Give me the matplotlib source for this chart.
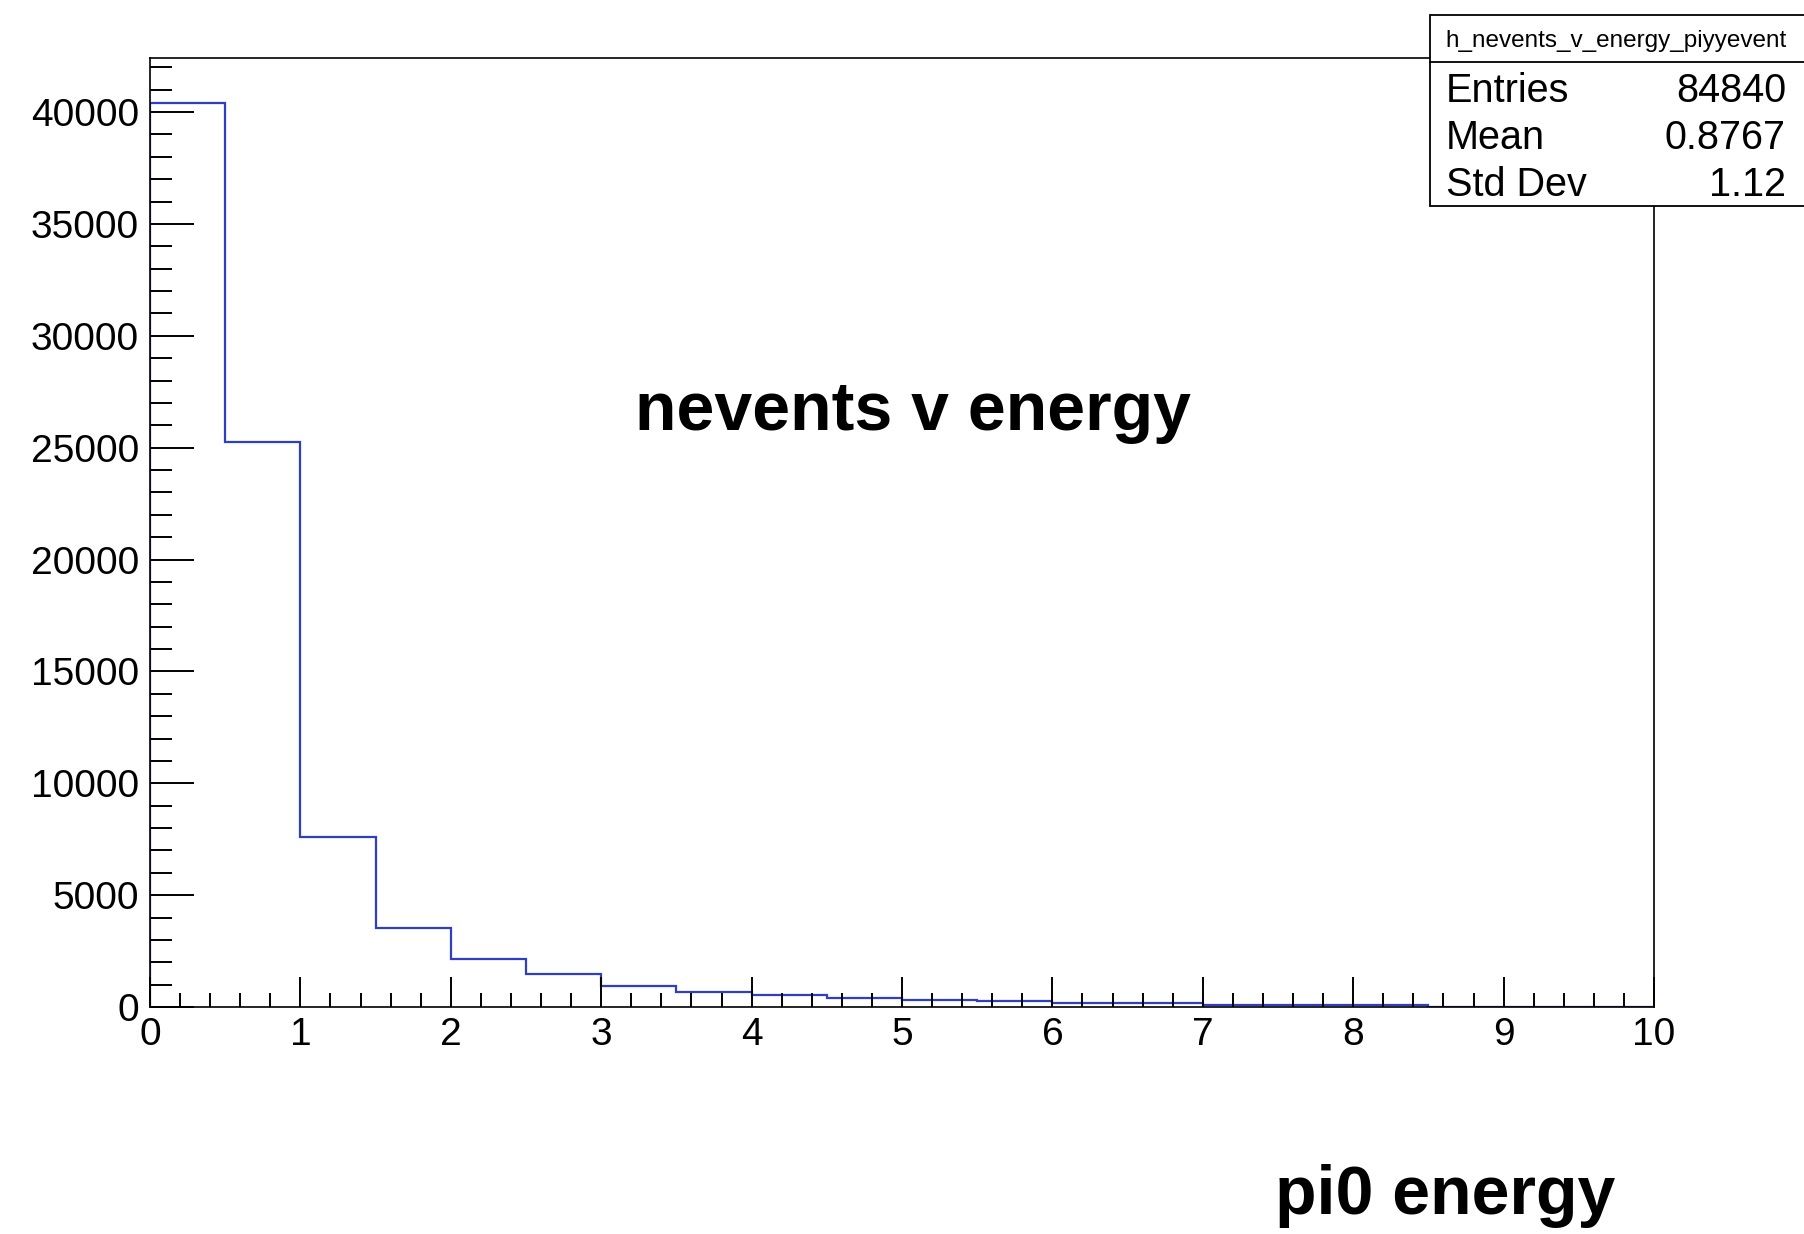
import matplotlib
matplotlib.use("Agg")
import matplotlib.pyplot as plt
import numpy as np
from matplotlib.ticker import MultipleLocator

# histogram h_nevents_v_energy_piyyevent, 20 bins of 0.5 from 0 to 10
bin_edges = np.linspace(0, 10, 21)
counts = [40420, 25250, 7615, 3537, 2149, 1460, 940, 670, 520, 420,
          330, 250, 170, 170, 80, 80, 80, 0, 0, 0]

hist_name = "h_nevents_v_energy_piyyevent"
stat_names = ["Entries", "Mean", "Std Dev"]
stat_values = ["84840", "0.8767", "1.12"]
title = "nevents v energy"
xlabel = "pi0 energy"

W, H = 1804, 1234
FONT = "Liberation Sans"


def px(x, y):
    # figure pixel (from top-left) -> figure fraction
    return x / W, 1 - y / H


def main():
    fig = plt.figure(figsize=(W / 100, H / 100), dpi=100)
    left, right, top, bottom = 150, 1654, 57.5, 1007
    ax = fig.add_axes([left / W, 1 - bottom / H, (right - left) / W, (bottom - top) / H])

    ax.stairs(counts, bin_edges, color="#2f3fc4", lw=1.6)

    ax.set_xlim(0, 10)
    ax.set_ylim(0, max(counts) * 1.05)
    ax.xaxis.set_major_locator(MultipleLocator(1))
    ax.xaxis.set_minor_locator(MultipleLocator(0.2))
    ax.yaxis.set_major_locator(MultipleLocator(5000))
    ax.yaxis.set_minor_locator(MultipleLocator(1000))

    for s in ax.spines.values():
        s.set_linewidth(1.2)
    ax.tick_params(axis="both", which="both", direction="in", top=False, right=False,
                   width=1.4, color="black")
    ax.tick_params(axis="y", which="major", length=32, pad=8)
    ax.tick_params(axis="y", which="minor", length=16)
    ax.tick_params(axis="x", which="major", length=21.5, pad=7)
    ax.tick_params(axis="x", which="minor", length=10)
    for lab in ax.get_xticklabels() + ax.get_yticklabels():
        lab.set_fontfamily(FONT)
        lab.set_fontsize(28)

    # title and axis label, placed as in the ROOT canvas
    fig.text(*px(913, 430), title, ha="center", va="baseline",
             fontsize=49, fontweight="bold", family=FONT)
    fig.text(*px(1445, 1214), xlabel, ha="center", va="baseline",
             fontsize=49, fontweight="bold", family=FONT)

    # stats box
    bx0, bx1, by0, bsep, by1 = 1430, 1810, 15, 62, 206
    box = plt.Rectangle(px(bx0, by1), (bx1 - bx0) / W, (by1 - by0) / H,
                        transform=fig.transFigure, fill=True, facecolor="white",
                        edgecolor="black", lw=1.3, zorder=5)
    fig.add_artist(box)
    fig.add_artist(plt.Line2D([bx0 / W, bx1 / W], [1 - bsep / H] * 2,
                              transform=fig.transFigure, color="black", lw=1.3, zorder=6))
    fig.text(*px(1616, 41), hist_name, ha="center", va="center",
             fontsize=17.5, family=FONT, zorder=7)
    rows_y = [91, 138, 185]
    for name, val, y in zip(stat_names, stat_values, rows_y):
        fig.text(*px(1446, y), name, ha="left", va="center", fontsize=28.5, family=FONT, zorder=7)
        fig.text(*px(1786, y), val, ha="right", va="center", fontsize=28.5, family=FONT, zorder=7)

    fig.savefig("out.png", dpi=100)


if __name__ == "__main__":
    main()
